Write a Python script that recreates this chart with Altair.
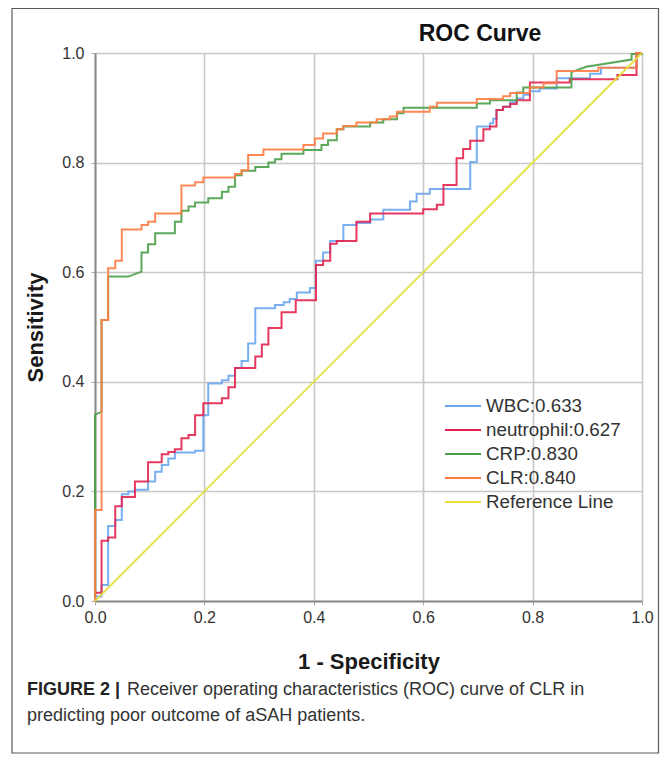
import altair as alt
import pandas as pd

F = "Liberation Sans"

series_names = ["WBC:0.633", "neutrophil:0.627", "CRP:0.830", "CLR:0.840", "Reference Line"]
series_colors = ["#6aa6f0", "#e3234f", "#4a9e48", "#ff7c42", "#e6df3c"]

tick_values = [0.0, 0.2, 0.4, 0.6, 0.8, 1.0]

# step points: (x, sensitivity after the jump at x); curve starts at (0,0)
wbc_x = [0, 0.012, 0.024, 0.037, 0.049, 0.061, 0.073, 0.097, 0.110, 0.122, 0.134, 0.146, 0.183, 0.198,
         0.207, 0.232, 0.244, 0.256, 0.268, 0.280, 0.293, 0.329, 0.345, 0.356, 0.369, 0.393, 0.404, 0.417,
         0.430, 0.454, 0.478, 0.503, 0.527, 0.576, 0.588, 0.612, 0.686, 0.698, 0.722, 0.728, 0.734, 0.746,
         0.759, 0.771, 0.783, 0.795, 0.813, 0.844, 0.905, 0.925, 0.990, 1.0]
wbc_y = [0.008, 0.029, 0.137, 0.148, 0.195, 0.200, 0.203, 0.218, 0.236, 0.248, 0.260, 0.271, 0.274, 0.339,
         0.397, 0.403, 0.411, 0.425, 0.438, 0.470, 0.534, 0.540, 0.545, 0.551, 0.563, 0.571, 0.621, 0.636,
         0.657, 0.686, 0.690, 0.696, 0.714, 0.729, 0.743, 0.752, 0.801, 0.866, 0.872, 0.880, 0.896, 0.902,
         0.910, 0.917, 0.924, 0.930, 0.935, 0.954, 0.962, 0.973, 1.0, 1.0]

neu_x = [0, 0.012, 0.024, 0.037, 0.049, 0.073, 0.097, 0.122, 0.134, 0.146, 0.158, 0.171, 0.183, 0.198,
         0.232, 0.244, 0.256, 0.293, 0.305, 0.317, 0.341, 0.367, 0.404, 0.417, 0.430, 0.442, 0.478, 0.503,
         0.600, 0.625, 0.637, 0.661, 0.673, 0.686, 0.710, 0.722, 0.734, 0.746, 0.759, 0.771, 0.795, 0.868,
         0.955, 0.990, 1.0]
neu_y = [0.015, 0.110, 0.116, 0.173, 0.190, 0.218, 0.253, 0.268, 0.272, 0.277, 0.297, 0.303, 0.339, 0.361,
         0.370, 0.390, 0.425, 0.446, 0.468, 0.498, 0.527, 0.549, 0.613, 0.621, 0.652, 0.657, 0.692, 0.707,
         0.715, 0.723, 0.759, 0.808, 0.825, 0.840, 0.861, 0.866, 0.896, 0.902, 0.907, 0.914, 0.946, 0.952,
         0.960, 1.0, 1.0]

crp_x = [0, 0.012, 0.012, 0.024, 0.061, 0.085, 0.085, 0.097, 0.110, 0.146, 0.158, 0.171, 0.183, 0.207,
         0.232, 0.244, 0.256, 0.268, 0.293, 0.317, 0.329, 0.341, 0.381, 0.414, 0.426, 0.442, 0.454, 0.503,
         0.527, 0.552, 0.564, 0.698, 0.722, 0.771, 0.783, 0.871, 0.898, 0.981, 0.981, 1.0]
crp_y = [0.340, 0.345, 0.513, 0.592, 0.592, 0.601, 0.636, 0.651, 0.671, 0.692, 0.712, 0.720, 0.727, 0.735,
         0.747, 0.756, 0.777, 0.785, 0.792, 0.800, 0.806, 0.816, 0.823, 0.832, 0.841, 0.861, 0.866, 0.873,
         0.879, 0.890, 0.900, 0.908, 0.914, 0.928, 0.937, 0.965, 0.975, 0.988, 0.998, 1.0]
crp_diag = [1, 5, 36, 37]  # segments drawn straight (no step corner)

clr_x = [0, 0.012, 0.024, 0.037, 0.049, 0.085, 0.097, 0.110, 0.158, 0.183, 0.198, 0.256, 0.268, 0.280,
         0.308, 0.381, 0.402, 0.417, 0.442, 0.454, 0.478, 0.515, 0.539, 0.552, 0.612, 0.625, 0.698, 0.746,
         0.759, 0.795, 0.820, 0.844, 0.920, 0.990, 1.0]
clr_y = [0.166, 0.513, 0.607, 0.621, 0.678, 0.686, 0.692, 0.707, 0.758, 0.764, 0.773, 0.779, 0.786, 0.814,
         0.824, 0.832, 0.844, 0.853, 0.861, 0.867, 0.873, 0.879, 0.884, 0.893, 0.902, 0.909, 0.916, 0.921,
         0.927, 0.937, 0.945, 0.967, 0.973, 1.0, 1.0]

ref_x = [0.0, 1.0]
ref_y = [0.0, 1.0]

chart_title = "ROC Curve"
caption_bold = "FIGURE 2 |"
caption_line1 = "Receiver operating characteristics (ROC) curve of CLR in"
caption_line2 = "predicting poor outcome of aSAH patients."


def step_vertices(xs, ys, diag=()):
    vx, vy = [0.0], [0.0]
    for i, (x, y) in enumerate(zip(xs, ys)):
        if i not in diag:
            vx.append(x)
            vy.append(vy[-1])
        vx.append(x)
        vy.append(y)
    return vx, vy


rows = []
curves = [
    (series_names[0], *step_vertices(wbc_x, wbc_y)),
    (series_names[1], *step_vertices(neu_x, neu_y)),
    (series_names[2], *step_vertices(crp_x, crp_y, crp_diag)),
    (series_names[3], *step_vertices(clr_x, clr_y)),
    (series_names[4], ref_x, ref_y),
]
for name, xs, ys in curves:
    for k, (x, y) in enumerate(zip(xs, ys)):
        rows.append({"series": name, "x": x, "y": y, "order": k})
df = pd.DataFrame(rows)

lines = alt.Chart(df).mark_line(strokeWidth=2, strokeOpacity=0.9, clip=False).encode(
    x=alt.X("x:Q", scale=alt.Scale(domain=[0, 1], nice=False, zero=False),
            axis=alt.Axis(values=tick_values, format=".1f", title="1 - Specificity",
                          labelFont=F, labelFontSize=16, labelColor="#333", labelFlush=False,
                          labelPadding=4, tickSize=4, tickColor="#aaa",
                          domainColor="#8c8c8c", domainWidth=2,
                          grid=True, gridColor="#c8c8c8", gridWidth=1.6,
                          titleFont=F, titleFontSize=22, titleFontWeight="bold", titleColor="#1a1a1a",
                          titleX=273.5, titleY=60, titleBaseline="middle")),
    y=alt.Y("y:Q", scale=alt.Scale(domain=[0, 1], nice=False, zero=False),
            axis=alt.Axis(values=tick_values, format=".1f", title="Sensitivity",
                          labelFont=F, labelFontSize=16, labelColor="#333", labelFlush=False,
                          labelPadding=7, tickSize=4, tickColor="#aaa",
                          domainColor="#8c8c8c", domainWidth=2,
                          grid=True, gridColor="#c8c8c8", gridWidth=1.6,
                          titleFont=F, titleFontSize=22, titleFontWeight="bold", titleColor="#1a1a1a",
                          titleX=-60, titleY=274, titleAngle=270, titleBaseline="middle")),
    color=alt.Color("series:N", sort=series_names,
                    scale=alt.Scale(domain=series_names, range=series_colors),
                    legend=alt.Legend(orient="none", legendX=349, legendY=341, title=None,
                                      symbolType="stroke", symbolSize=1296, symbolStrokeWidth=2,
                                      labelFont=F, labelFontSize=18.8, labelColor="#333",
                                      labelOffset=4, padding=0, rowPadding=0, clipHeight=24)),
    order=alt.Order("order:Q"),
)

one = pd.DataFrame({"k": [0]})
frame = alt.Chart(one).mark_rect(fill="white", fillOpacity=0, stroke="#5a5a5a", strokeWidth=1.2).encode(
    x=alt.value(-83), x2=alt.value(563.5), y=alt.value(-44.5), y2=alt.value(700)
)

title_mark = alt.Chart(pd.DataFrame({"t": [chart_title]})).mark_text(
    align="center", baseline="alphabetic", font=F, fontSize=23, fontWeight="bold", color="#111"
).encode(x=alt.value(385), y=alt.value(-12), text="t:N")

cap_b = alt.Chart(pd.DataFrame({"t": [caption_bold]})).mark_text(
    align="left", baseline="alphabetic", font=F, fontSize=18, fontWeight="bold", color="#222"
).encode(x=alt.value(-68), y=alt.value(642), text="t:N")
cap_1 = alt.Chart(pd.DataFrame({"t": [caption_line1]})).mark_text(
    align="left", baseline="alphabetic", font=F, fontSize=18, color="#333"
).encode(x=alt.value(32), y=alt.value(642), text="t:N")
cap_2 = alt.Chart(pd.DataFrame({"t": [caption_line2]})).mark_text(
    align="left", baseline="alphabetic", font=F, fontSize=18, color="#333"
).encode(x=alt.value(-68), y=alt.value(668), text="t:N")

chart = alt.layer(frame, lines, title_mark, cap_b, cap_1, cap_2).properties(
    width=547, height=548,
    padding={"left": 87, "top": 45, "right": 18, "bottom": 153},
    autosize=alt.AutoSizeParams(type="none"),
).configure_view(stroke="#c8c8c8", strokeWidth=2).configure(background="white")

chart.save("out.html", embed_options={"renderer": "svg", "actions": False})
